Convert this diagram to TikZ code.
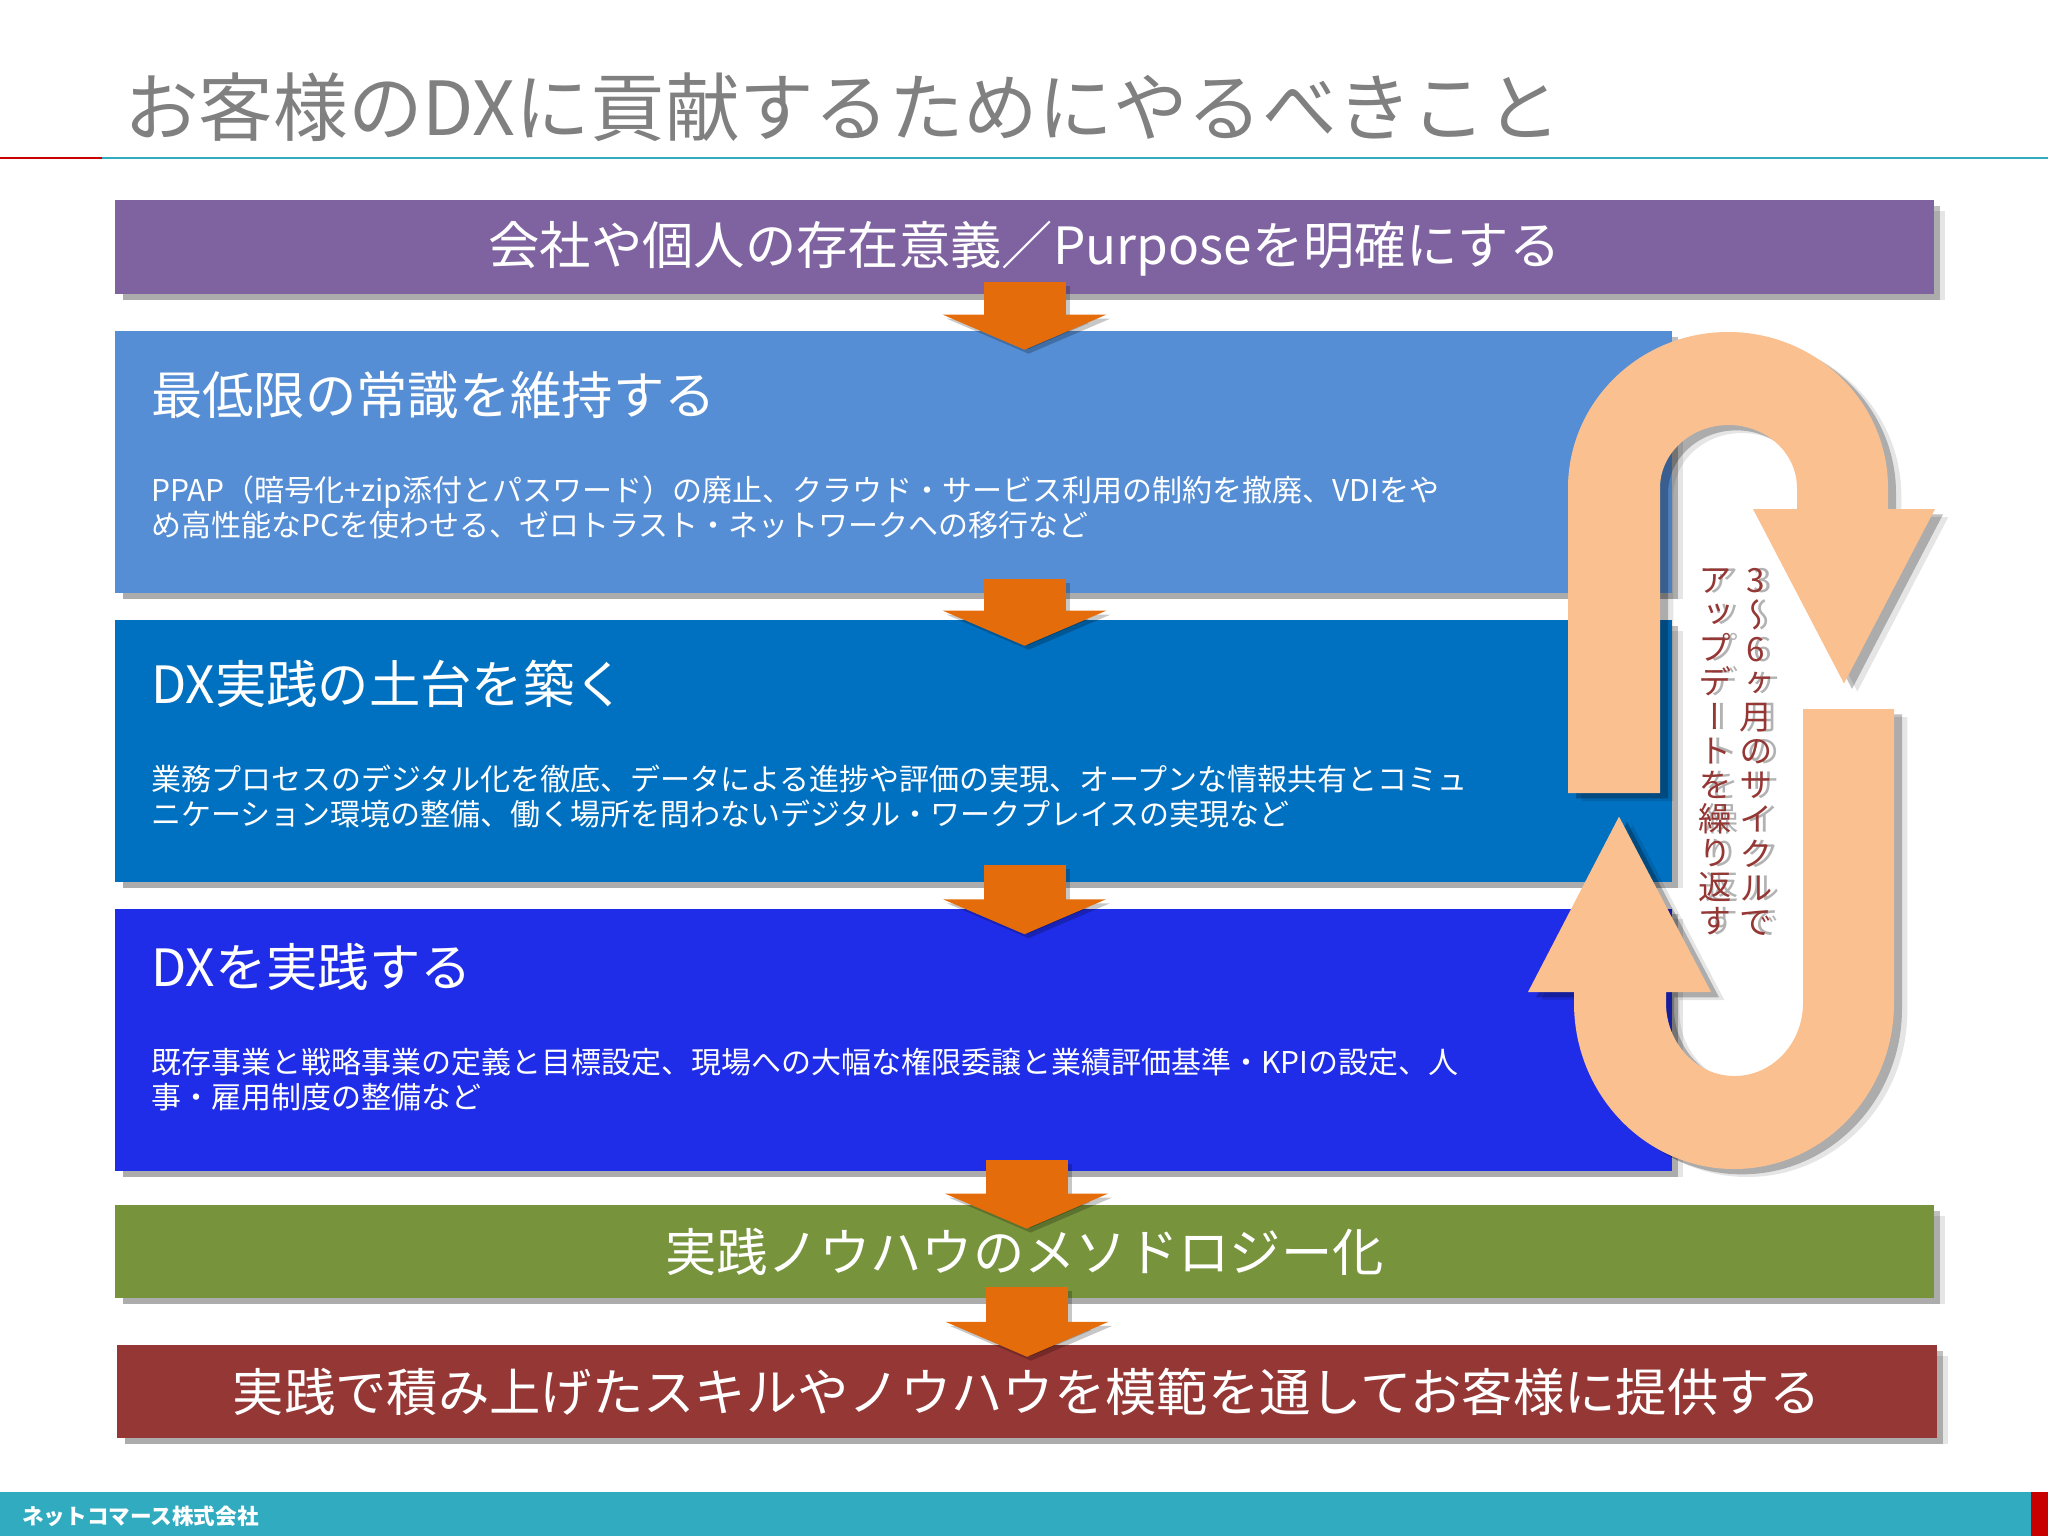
\documentclass[tikz,border=0pt]{standalone}
\usepackage{fontspec}
\setmainfont{Noto Sans CJK JP}
\newfontfamily\vertfont[RawFeature=+vert]{Noto Sans CJK JP}
\usetikzlibrary{arrows.meta}
\usetikzlibrary{shadows}
\usetikzlibrary{backgrounds}
\definecolor{barPurple}{HTML}{7F63A1}
\definecolor{boxBlueA}{HTML}{558ED5}
\definecolor{boxBlueB}{HTML}{0070C0}
\definecolor{boxBlueC}{HTML}{1F2DE8}
\definecolor{barGreen}{HTML}{77933C}
\definecolor{barRed}{HTML}{953735}
\definecolor{flowOrange}{HTML}{E46C0A}
\definecolor{loopPeach}{HTML}{FAC090}
\definecolor{footTeal}{HTML}{31ABBF}
\definecolor{ruleRed}{HTML}{C80000}
\tikzset{x=.75pt,y=-.75pt,
    barbox/.style={
        inner sep=0pt,
        text=white,
        font=\fontsize{38.5}{44}\selectfont},
    blockbox/.style={
        barbox,
        minimum width=1167.75pt,
        minimum height=196.5pt},
    headtext/.style={
        anchor=west,
        inner sep=0pt,
        text=white,
        font=\fontsize{38.5}{44}\selectfont},
    bodytext/.style={
        anchor=north west,
        inner sep=0pt,
        text=white,
        align=left,
        font=\fontsize{22.5}{26}\selectfont},
    blockarrow/.style={
        draw=flowOrange,
        line width=61.5pt,
        -{Triangle[length=26.25pt,width=121.5pt]}},
    blockshade/.style={
        draw=black,
        opacity=.22,
        line width=61.5pt,
        -{Triangle[length=26.25pt,width=121.5pt]}},
    loopshape/.style={
        fill=loopPeach,
        drop shadow={shadow xshift=10pt,shadow yshift=-6pt,fill=black,opacity=.1},
        drop shadow={shadow xshift=6pt,shadow yshift=-4pt,fill=black,opacity=.25}},
    looptext/.style={
        inner sep=0pt,
        align=center,
        font=\vertfont\fontsize{25}{25.6}\selectfont}}
\newcommand{\barshadow}[1]{%
    \fill[black,opacity=.1] ([shift={(8,6)}]#1.south west) rectangle ([shift={(11,11)}]#1.north east);
    \fill[black,opacity=.25] ([shift={(8,6)}]#1.south west) rectangle ([shift={(6,6)}]#1.north east);}
\newcommand{\flowarrow}[2]{\draw[blockshade,transform canvas={shift={(3pt,-3pt)}}] #1 -- #2; \draw[blockarrow] #1 -- #2;}
\begin{document}
\begin{tikzpicture}
    \useasboundingbox (0,0) rectangle (2048,1536);
    % title and rule
    \node[anchor=west,inner sep=0pt,text=black!50,font=\fontsize{56}{66}\selectfont] (title) at (124,107) {お客様のDXに貢献するためにやるべきこと};
    \coordinate (ruleL) at (0,158);
    \coordinate (ruleM) at (102,158);
    \coordinate (ruleR) at (2048,158);
    \draw[ruleRed,line width=2.2pt] (ruleL) -- (ruleM);
    \draw[footTeal,line width=2.2pt] (ruleM) -- (ruleR);

    % boxes
    \node[barbox,fill=barPurple,minimum width=1364.25pt,minimum height=70.5pt,text height=30pt,text depth=4pt] (purpose) at (1024.5,247) {会社や個人の存在意義／Purposeを明確にする};
    \node[blockbox,fill=boxBlueA] (common) at (893.5,462) {};
    \node[blockbox,fill=boxBlueB] (base) at (893.5,751) {};
    \node[blockbox,fill=boxBlueC] (practice) at (893.5,1039.5) {};
    \node[barbox,fill=barGreen,minimum width=1364.25pt,minimum height=70pt] (method) at (1024.5,1251.5) {実践ノウハウのメソドロジー化};
    \node[barbox,fill=barRed,minimum width=1365pt,minimum height=69.75pt] (provide) at (1027,1391.5) {実践で積み上げたスキルやノウハウを模範を通してお客様に提供する};
    \begin{scope}[on background layer]
        \barshadow{purpose}
        \barshadow{common}
        \barshadow{base}
        \barshadow{practice}
        \barshadow{method}
        \barshadow{provide}
    \end{scope}

    % box texts
    \node[headtext] (commonhead) at (151,395.5) {最低限の常識を維持する};
    \node[bodytext] (commonbody) at (151,476) {PPAP（暗号化+zip添付とパスワード）の廃止、クラウド・サービス利用の制約を撤廃、VDIをや\\め高性能なPCを使わせる、ゼロトラスト・ネットワークへの移行など};
    \node[headtext] (basehead) at (151,684) {DX実践の土台を築く};
    \node[bodytext] (basebody) at (151,764.5) {業務プロセスのデジタル化を徹底、データによる進捗や評価の実現、オープンな情報共有とコミュ\\ニケーション環境の整備、働く場所を問わないデジタル・ワークプレイスの実現など};
    \node[headtext] (practicehead) at (151,967) {DXを実践する};
    \node[bodytext] (practicebody) at (151,1048) {既存事業と戦略事業の定義と目標設定、現場への大幅な権限委譲と業績評価基準・KPIの設定、人\\事・雇用制度の整備など};

    % flow
    \flowarrow{([shift={(0,-12)}]purpose.south)}{([shift={(0,19)}]purpose.south |- common.north)}
    \flowarrow{([shift={(0,-14)}]purpose.south |- common.south)}{([shift={(0,26)}]purpose.south |- base.north)}
    \flowarrow{([shift={(0,-17)}]purpose.south |- base.south)}{([shift={(0,26)}]purpose.south |- practice.north)}
    \flowarrow{([shift={(2,-11)}]method.north |- practice.south)}{([shift={(2,24)}]method.north)}
    \flowarrow{([shift={(0,-11)}]provide.north |- method.south)}{([shift={(0,12)}]provide.north)}

    % update loop
    \fill[loopshape] (1568,793) -- (1568,488) arc[start angle=180,end angle=360,x radius=160,y radius=156]
        -- (1888,509) -- (1935,509) -- (1844,683.5) -- (1753,509) -- (1797,509) -- (1797,488)
        arc[start angle=0,end angle=-180,x radius=68.5,y radius=63] -- (1660,793) -- cycle;
    \fill[loopshape] (1894,709) -- (1894,1003) arc[start angle=0,end angle=180,x radius=160,y radius=166]
        -- (1574,992) -- (1528,992) -- (1619,816.6) -- (1711,992) -- (1666,992) -- (1666,1003)
        arc[start angle=180,end angle=0,x radius=68.5,y radius=73] -- (1803,709) -- cycle;
    \node[looptext,text=black!30] (cycleghost) at (1763,752) {3\\～\\6\\ヶ\\月\\の\\サ\\イ\\ク\\ル\\で};
    \node[looptext,text=black!30] (updateghost) at (1722,752) {ア\\ッ\\プ\\デ\\ー\\ト\\を\\繰\\り\\返\\す};
    \node[looptext,text=barRed] (cycle) at (1756,752) {3\\～\\6\\ヶ\\月\\の\\サ\\イ\\ク\\ル\\で};
    \node[looptext,text=barRed] (update) at (1715,752) {ア\\ッ\\プ\\デ\\ー\\ト\\を\\繰\\り\\返\\す};

    % footer
    \fill[footTeal] (0,1492) rectangle (2048,1536);
    \fill[ruleRed] (2031,1492) rectangle (2048,1536);
    \node[anchor=west,inner sep=0pt,text=white,font=\bfseries\fontsize{16.2}{18}\selectfont] (company) at (22,1516) {ネットコマース株式会社};
\end{tikzpicture}
\end{document}
